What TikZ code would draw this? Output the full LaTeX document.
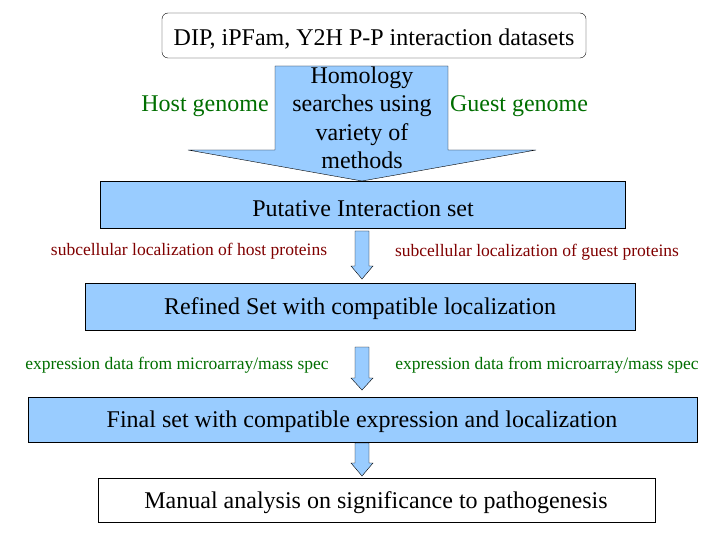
\documentclass[tikz,border=0pt]{standalone}
\usepackage{fontspec}
\setmainfont{Liberation Serif}
\definecolor{lb}{RGB}{153,204,255}
\definecolor{dred}{RGB}{128,0,0}
\definecolor{dgreen}{RGB}{0,110,0}
\begin{document}
\begin{tikzpicture}[x=1pt,y=-1pt,
 bigtxt/.style={font=\fontsize{24}{27}\selectfont},
 boxs/.style={draw,fill=lb,bigtxt},
 smalltxt/.style={font=\fontsize{17.5}{20}\selectfont},
 arr/.style={draw,fill=lb}]
\useasboundingbox (0,0) rectangle (720,540);
\draw[rounded corners=6] (162,13) rectangle (586,58);
\node[bigtxt] (top) at (374,39) {DIP, iPFam, Y2H P-P interaction datasets};
\draw[arr] (275,66) -- (448,66) -- (448,150) -- (536,150) -- (362,181) -- (188,150) -- (275,150) -- cycle;
\node[align=center,font=\fontsize{24}{28.5}\selectfont] (hom) at (362,118) {Homology\\searches using\\variety of\\methods};
\node[bigtxt,text=dgreen] (host) at (205,106) {Host genome};
\node[bigtxt,text=dgreen] (guest) at (519,106) {Guest genome};
\draw[boxs] (100,181) rectangle (625,228);
\node[bigtxt] (put) at (363,209) {Putative Interaction set};
\node[smalltxt,text=dred] (hp) at (189,251) {subcellular localization of host proteins};
\node[smalltxt,text=dred] (gp) at (537,252) {subcellular localization of guest proteins};
\draw[arr] (355,231) -- (369,231) -- (369,266) -- (373,266) -- (362,279) -- (351,266) -- (355,266) -- cycle;
\draw[boxs] (85,283) rectangle (635,330);
\node[bigtxt] (ref) at (360,309) {Refined Set with compatible localization};
\node[smalltxt,text=dgreen] (e1) at (177,365) {expression data from microarray/mass spec};
\node[smalltxt,text=dgreen] (e2) at (547,365) {expression data from microarray/mass spec};
\draw[arr] (355,347) -- (369,347) -- (369,378) -- (373,378) -- (362,390) -- (351,378) -- (355,378) -- cycle;
\draw[boxs] (28,397) rectangle (697,442);
\node[bigtxt] (fin) at (362,422) {Final set with compatible expression and localization};
\draw[arr] (355,443) -- (369,443) -- (369,463) -- (373,463) -- (362,476) -- (351,463) -- (355,463) -- cycle;
\draw[fill=white] (98,478) rectangle (655,522);
\node[bigtxt] (man) at (376,503) {Manual analysis on significance to pathogenesis};
\end{tikzpicture}
\end{document}
